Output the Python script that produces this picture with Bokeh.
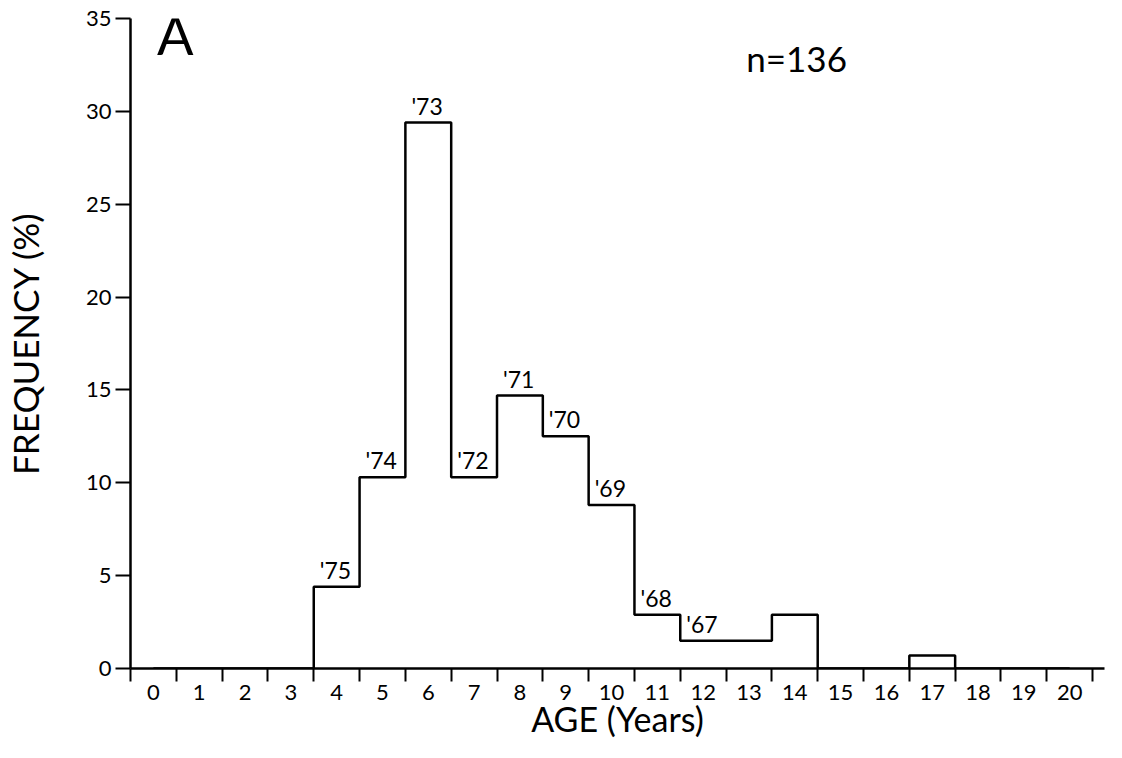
from bokeh.plotting import figure
from bokeh.models import FixedTicker, Label, ColumnDataSource
from bokeh.core.properties import value
from bokeh.embed import file_html
from bokeh.resources import INLINE

# ---- data ----
ages = list(range(0, 21))
freq = [0, 0, 0, 0, 4.4, 10.3, 29.4, 10.3, 14.7, 12.5, 8.8,
        2.9, 1.5, 1.5, 2.9, 0, 0, 0.7, 0, 0, 0]
label_ages = [4, 5, 6, 7, 8, 9, 10, 11, 12]
label_years = ["'75", "'74", "'73", "'72", "'71", "'70", "'69", "'68", "'67"]
y_ticks = [0, 5, 10, 15, 20, 25, 30, 35]
panel_letter = "A"
n_text = "n=136"
x_title = "AGE (Years)"
y_title = "FREQUENCY (%)"

FONT = "Lato"

p = figure(width=1106, height=742, x_range=(-0.5, 20.76), y_range=(0, 35),
           output_backend="svg", toolbar_location=None,
           min_border_left=128, min_border_right=2, min_border_top=18,
           min_border_bottom=74)
p.outline_line_color = None
p.xgrid.grid_line_color = None
p.ygrid.grid_line_color = None
p.background_fill_color = "white"
p.border_fill_color = "white"

# x axis: labels at integer ages, ticks at bin boundaries
p.xaxis.ticker = FixedTicker(ticks=ages, minor_ticks=[a - 0.5 for a in ages] + [ages[-1] + 0.5])
p.xaxis.major_tick_out = 0
p.xaxis.major_tick_in = 0
p.xaxis.minor_tick_out = 13
p.xaxis.minor_tick_in = 0
p.xaxis.minor_tick_line_color = "black"
p.xaxis.minor_tick_line_width = 2
p.xaxis.major_label_standoff = 3
p.xaxis.axis_line_width = 2.5
p.xaxis.axis_line_color = "black"
p.xaxis.major_label_text_font = FONT
p.xaxis.major_label_text_font_size = "22px"
p.xaxis.major_label_text_color = "black"
p.xaxis.axis_label = x_title
p.xaxis.axis_label_text_font = FONT
p.xaxis.axis_label_text_font_size = "34px"
p.xaxis.axis_label_text_font_style = "normal"
p.xaxis.axis_label_text_color = "black"
p.xaxis.axis_label_standoff = -5

# y axis
p.yaxis.ticker = FixedTicker(ticks=y_ticks, minor_ticks=[])
p.yaxis.major_tick_out = 15
p.yaxis.major_tick_in = 0
p.yaxis.major_tick_line_width = 2
p.yaxis.major_tick_line_color = "black"
p.yaxis.major_label_standoff = 4
p.yaxis.axis_line_width = 2.5
p.yaxis.axis_line_color = "black"
p.yaxis.major_label_text_font = FONT
p.yaxis.major_label_text_font_size = "22px"
p.yaxis.major_label_text_color = "black"
p.yaxis.axis_label = y_title
p.yaxis.axis_label_text_font = FONT
p.yaxis.axis_label_text_font_size = "35px"
p.yaxis.axis_label_text_font_style = "normal"
p.yaxis.axis_label_text_color = "black"
p.yaxis.axis_label_standoff = 37

# histogram outline
p.step(x=ages, y=freq, mode="center", line_color="black", line_width=2.5)

# year-class labels
lab_freq = [freq[ages.index(a)] for a in label_ages]
src = ColumnDataSource(dict(x=[a - 0.5 for a in label_ages], y=lab_freq, t=label_years))
p.text(x="x", y="y", text="t", source=src, x_offset=6, y_offset=-17,
       text_align="left", text_baseline="alphabetic",
       text_font=value(FONT), text_font_size="23px", text_color="black")

# annotations
p.add_layout(Label(x=0.08, y=34.15, text=panel_letter, text_font=FONT,
                   text_font_size="54px", text_baseline="alphabetic",
                   text_align="left", text_color="black"))
p.add_layout(Label(x=12.94, y=32.85, text=n_text, text_font=FONT,
                   text_font_size="35px", text_baseline="alphabetic",
                   text_align="left", text_color="black"))

open("out.html", "w").write(file_html(p, INLINE))
